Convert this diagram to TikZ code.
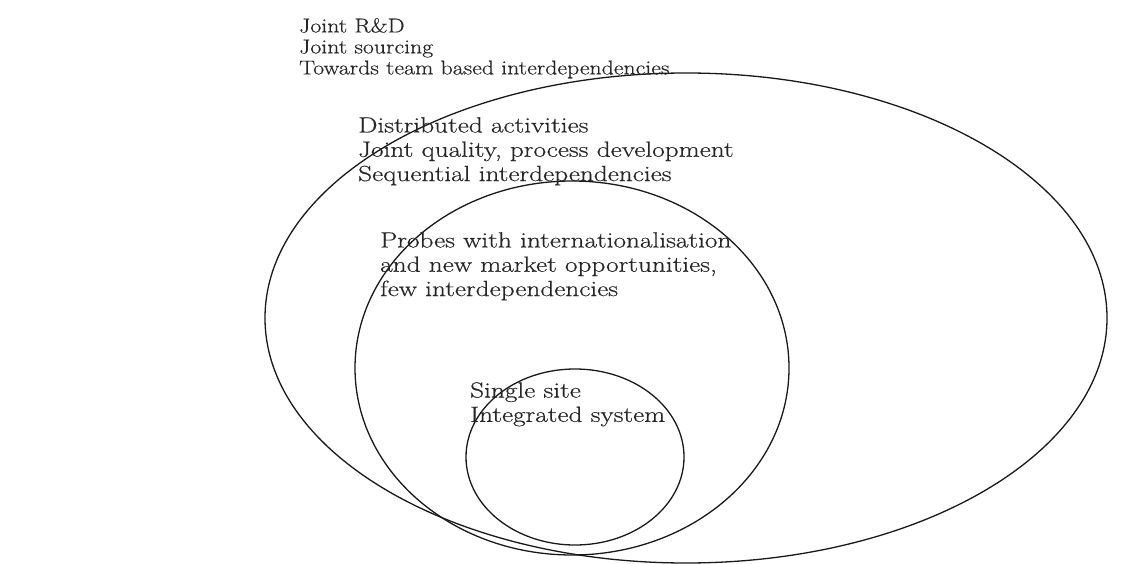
\documentclass[tikz,border=0pt]{standalone}
\usepackage{fontspec}
\setmainfont{Latin Modern Roman}
\newfontfamily\widea{Latin Modern Roman}[FakeStretch=1.19,FakeBold=0.5]
\newfontfamily\wideb{Latin Modern Roman}[FakeStretch=1.24,FakeBold=0.5]
\begin{document}
\begin{tikzpicture}[x=1pt,y=-1pt,
  ring/.style={draw=black!90, line width=1.3pt},
  label/.style={anchor=north west, inner sep=0pt, align=left, text=black!85,
    font=\wideb\fontsize{22}{24.3}\selectfont}]
\useasboundingbox (0,0) rectangle (1145,564);
\draw[ring] (686,318) ellipse [x radius=421, y radius=245];
\draw[ring] (572,368) ellipse [x radius=217, y radius=187];
\draw[ring] (575,457) ellipse [x radius=109, y radius=88];
\node[label, font=\widea\fontsize{20}{21}\selectfont] (t1) at (299,18) {Joint R\&D\\Joint sourcing\\Towards team based interdependencies};
\node[label] (t2) at (358,117) {Distributed activities\\Joint quality, process development\\Sequential interdependencies};
\node[label] (t3) at (380,232) {Probes with internationalisation\\and new market opportunities,\\few interdependencies};
\node[label] (t4) at (470,382) {Single site\\Integrated system};
\end{tikzpicture}
\end{document}
